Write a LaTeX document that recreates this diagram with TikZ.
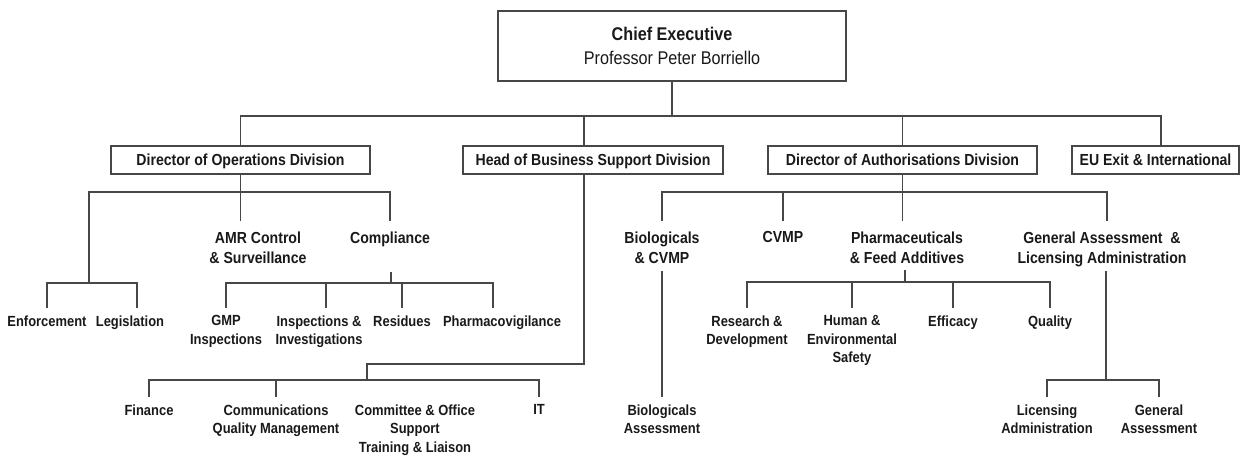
\documentclass[tikz,border=0pt]{standalone}
\usepackage{fontspec}
\setmainfont{Liberation Sans}[FakeStretch=0.88]
\begin{document}
\begin{tikzpicture}[x=1pt,y=-1pt,
  line/.style={draw=black!72,line width=1.7pt},
  chief/.style={draw=black!72,line width=1.7pt,inner sep=0pt,minimum width=348pt,minimum height=70pt,align=center,text=black!90,font=\fontsize{18.4}{24}\selectfont},
  divbox/.style={draw=black!72,line width=1.7pt,inner sep=0pt,minimum height=28pt,text height=11.5pt,text depth=0pt,text=black!90,font=\fontsize{16}{20}\selectfont\bfseries},
  midlabel/.style={anchor=north,align=center,inner xsep=0pt,inner ysep=10.5pt,text=black!90,font=\fontsize{16}{20}\selectfont\bfseries},
  lowlabel/.style={anchor=north,align=center,inner xsep=0pt,inner ysep=7.5pt,text=black!90,font=\fontsize{14.7}{18.5}\selectfont\bfseries}]
\useasboundingbox (0,0) rectangle (1241,456);

\node[chief] (ce) at (672,46) {\textbf{Chief Executive}\\Professor Peter Borriello};

\node[divbox,minimum width=259pt] (ops) at (240.5,160) {Director of Operations Division};
\node[divbox,minimum width=260pt] (hbs) at (593,160) {Head of Business Support Division};
\node[divbox,minimum width=269pt] (auth) at (902.5,160) {Director of Authorisations Division};
\node[divbox,minimum width=167pt] (eu) at (1155.5,160) {EU Exit \& International};

\node[midlabel] (amr) at (258,221) {AMR Control\\\& Surveillance};
\node[midlabel] (comp) at (390,221) {Compliance};
\node[midlabel] (bio) at (662,221) {Biologicals\\\& CVMP};
\node[midlabel] (cvmp) at (783,221) {CVMP};
\node[midlabel] (pharma) at (907,221) {Pharmaceuticals\\\& Feed Additives};
\node[midlabel] (gala) at (1102,221) {General Assessment~ \&\\Licensing Administration};

\node[lowlabel] (enf) at (47,308) {Enforcement};
\node[lowlabel] (leg) at (130,308) {Legislation};
\node[lowlabel] (gmp) at (226,308) {GMP\\Inspections};
\node[lowlabel] (insp) at (319,308) {Inspections \&\\Investigations};
\node[lowlabel] (res) at (402,308) {Residues};
\node[lowlabel] (pv) at (502,308) {Pharmacovigilance};
\node[lowlabel] (rd) at (747,308) {Research \&\\Development};
\node[lowlabel] (hum) at (852,308) {Human \&\\Environmental\\Safety};
\node[lowlabel] (eff) at (953,308) {Efficacy};
\node[lowlabel] (qual) at (1050,308) {Quality};

\node[lowlabel] (fin) at (149,397) {Finance};
\node[lowlabel] (comm) at (276,397) {Communications\\Quality Management};
\node[lowlabel] (comt) at (415,397) {Committee \& Office\\Support\\Training \& Liaison};
\node[lowlabel] (it) at (539,397) {IT};
\node[lowlabel] (bioa) at (662,397) {Biologicals\\Assessment};
\node[lowlabel] (lic) at (1047,397) {Licensing\\Administration};
\node[lowlabel] (gen) at (1159,397) {General\\Assessment};

\coordinate (opsbus) at (240.5,192);
\coordinate (enfbus) at (89,283);
\coordinate (comp-s) at (391,272);
\coordinate (compbus) at (391,283);
\coordinate (hbs-turn) at (367,364);
\coordinate (hbsbus) at (367,380);
\coordinate (authbus) at (902.5,192);
\coordinate (bio-s) at (662,271);
\coordinate (pharma-s) at (905,270);
\coordinate (pharmabus) at (905,282);
\coordinate (gala-s) at (1106,271);
\coordinate (galabus) at (1106,380);

\draw[line] (ce.south) -- ++(0,34) coordinate (topbus);
\draw[line] (ops.north) |- (topbus) -| ([xshift=5.5pt]eu.north);
\draw[line] ([xshift=-9pt]hbs.north) -- ([xshift=-9pt]hbs.north |- topbus);
\draw[line] (auth.north) -- (auth.north |- topbus);

\draw[line] (ops.south) -- (ops.south |- amr.north);
\draw[line] (enfbus) |- (opsbus) -| (comp.north);
\draw[line] (enf.north) |- (enfbus) -| ([xshift=7pt]leg.north);
\draw[line] (comp-s) -- (compbus);
\draw[line] (gmp.north) |- (compbus) -| ([xshift=-9pt]pv.north);
\draw[line] ([xshift=7pt]insp.north) -- ([xshift=7pt]insp.north |- compbus);
\draw[line] (res.north) -- (res.north |- compbus);

\draw[line] ([xshift=-9pt]hbs.south) |- (hbs-turn) -- (hbsbus);
\draw[line] (fin.north) |- (hbsbus) -| (it.north);
\draw[line] (comm.north) -- (comm.north |- hbsbus);

\draw[line] (auth.south) -- (auth.south |- pharma.north);
\draw[line] (bio.north) |- (authbus) -| ([xshift=5pt]gala.north);
\draw[line] (cvmp.north) -- (cvmp.north |- authbus);
\draw[line] (bio-s) -- (bioa.north);
\draw[line] (pharma-s) -- (pharmabus);
\draw[line] (rd.north) |- (pharmabus) -| (qual.north);
\draw[line] (hum.north) -- (hum.north |- pharmabus);
\draw[line] (eff.north) -- (eff.north |- pharmabus);
\draw[line] (gala-s) -- (galabus);
\draw[line] (lic.north) |- (galabus) -| (gen.north);
\end{tikzpicture}
\end{document}
